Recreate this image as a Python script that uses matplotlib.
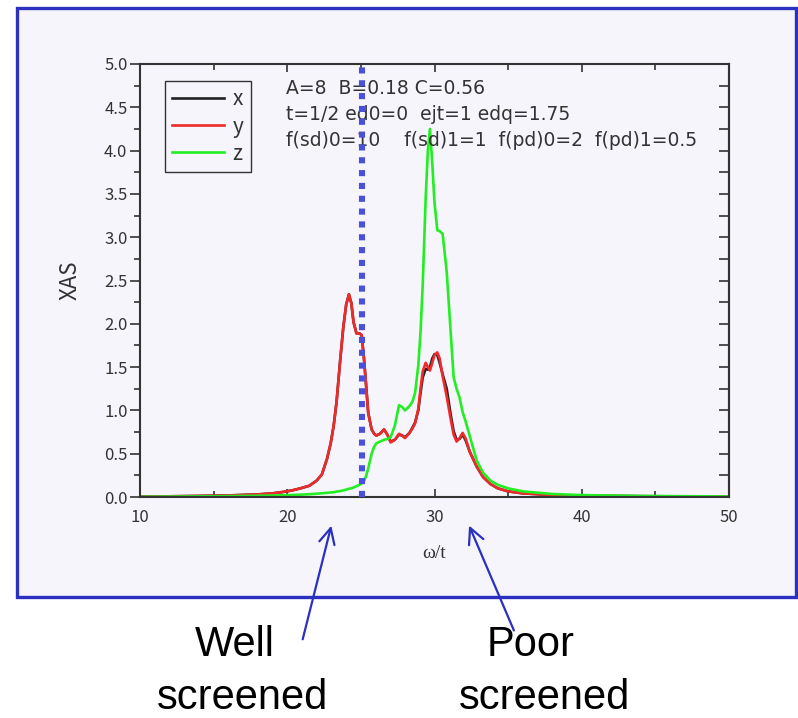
import matplotlib
matplotlib.use('Agg')
import matplotlib.pyplot as plt
from matplotlib.patches import Rectangle, FancyArrowPatch
from matplotlib.ticker import MultipleLocator, FormatStrFormatter

# omega/t grid shared by the three spectra
omega = [10, 12, 14, 16, 18, 19, 19.7, 20.3, 20.9, 21.5, 22.0, 22.35, 22.7, 22.95,
         23.15, 23.35, 23.58, 23.8, 24.0, 24.19, 24.35, 24.5, 24.7, 24.9, 25.05,
         25.2, 25.35, 25.5, 25.73, 25.9, 26.05, 26.3, 26.57, 26.8, 27.02, 27.3,
         27.59, 27.8, 28.0, 28.3, 28.5, 28.68, 28.9, 29.05, 29.2, 29.4, 29.55,
         29.69, 29.85, 30.0, 30.19, 30.35, 30.55, 30.83, 31.1, 31.3, 31.5, 31.7,
         31.91, 32.1, 32.4, 32.87, 33.3, 33.8, 34.3, 35, 36, 38, 40, 44, 50]

xas_x = [0.005, 0.008, 0.012, 0.018, 0.03, 0.042, 0.058, 0.075, 0.1, 0.13, 0.19, 0.26,
         0.44, 0.62, 0.82, 1.1, 1.55, 1.95, 2.22, 2.34, 2.24, 2.02, 1.89, 1.89, 1.87,
         1.62, 1.3, 0.97, 0.78, 0.73, 0.71, 0.73, 0.78, 0.72, 0.64, 0.66, 0.72, 0.71,
         0.69, 0.74, 0.8, 0.86, 1.0, 1.2, 1.38, 1.48, 1.47, 1.5, 1.6, 1.65, 1.64, 1.55,
         1.42, 1.25, 0.95, 0.76, 0.66, 0.67, 0.72, 0.66, 0.52, 0.35, 0.23, 0.15, 0.1,
         0.065, 0.042, 0.023, 0.015, 0.009, 0.005]

xas_y = [0.005, 0.008, 0.012, 0.018, 0.03, 0.042, 0.058, 0.075, 0.1, 0.13, 0.19, 0.26,
         0.44, 0.62, 0.82, 1.1, 1.55, 1.95, 2.22, 2.34, 2.24, 2.02, 1.89, 1.89, 1.87,
         1.62, 1.3, 0.97, 0.78, 0.73, 0.71, 0.73, 0.78, 0.72, 0.63, 0.66, 0.73, 0.71,
         0.68, 0.74, 0.79, 0.85, 1.02, 1.25, 1.45, 1.55, 1.5, 1.46, 1.55, 1.64, 1.67,
         1.6, 1.4, 1.16, 0.9, 0.72, 0.64, 0.68, 0.74, 0.68, 0.52, 0.35, 0.23, 0.15, 0.1,
         0.065, 0.042, 0.023, 0.015, 0.009, 0.005]

xas_z = [0.003, 0.005, 0.007, 0.01, 0.014, 0.017, 0.02, 0.023, 0.027, 0.032, 0.038,
         0.043, 0.048, 0.052, 0.056, 0.062, 0.068, 0.076, 0.085, 0.095, 0.1, 0.11, 0.125,
         0.14, 0.155, 0.18, 0.24, 0.33, 0.5, 0.58, 0.62, 0.64, 0.66, 0.67, 0.69, 0.82,
         1.06, 1.04, 1.0, 1.05, 1.1, 1.2, 1.52, 1.9, 2.45, 3.45, 4.0, 4.25, 3.85, 3.4,
         3.08, 3.07, 3.04, 2.6, 1.9, 1.38, 1.25, 1.15, 0.98, 0.88, 0.7, 0.42, 0.28, 0.19,
         0.14, 0.1, 0.065, 0.035, 0.022, 0.012, 0.006]

series_labels = ['x', 'y', 'z']
series_colors = ['#222222', '#ee2a2a', '#22ee22']
divider_omega = 25.1

param_lines = ['A=8  B=0.18 C=0.56',
               't=1/2 ed0=0  ejt=1 edq=1.75',
               'f(sd)0=10    f(sd)1=1  f(pd)0=2  f(pd)1=0.5']
param_y = [4.72, 4.42, 4.12]

W, H = 798, 718
bg = '#f5f5fb'
blue = '#2b30c0'
gothic = ['Noto Sans CJK JP', 'DejaVu Sans']

fig = plt.figure(figsize=(W / 100, H / 100), dpi=100)
fig.patch.set_facecolor('white')

# framed panel behind the plot
panel = Rectangle((17 / W, 1 - 597 / H), (796 - 17) / W, (597 - 8) / H,
                  transform=fig.transFigure, facecolor=bg,
                  edgecolor=blue, linewidth=2.4, zorder=-5)
fig.patches.append(panel)

ax = fig.add_axes([140 / W, 1 - 497 / H, (729 - 140) / W, (497 - 64) / H])
ax.set_facecolor(bg)

for vals, lab, col in zip([xas_x, xas_y, xas_z], series_labels, series_colors):
    ax.plot(omega, vals, color=col, linewidth=1.9, label=lab,
            solid_joinstyle='round')

ax.axvline(divider_omega, ymin=0, ymax=1, color='#4a50d8', linewidth=4.4,
           linestyle=(0, (1, 1.1)), dash_capstyle='butt', zorder=5)

for txt, yy in zip(param_lines, param_y):
    ax.text(19.92, yy, txt, fontsize=13.5, family='DejaVu Sans', color='#333333',
            va='center')

ax.set_xlim(10, 50)
ax.set_ylim(0, 5)
ax.xaxis.set_major_locator(MultipleLocator(10))
ax.xaxis.set_minor_locator(MultipleLocator(5))
ax.yaxis.set_major_locator(MultipleLocator(0.5))
ax.yaxis.set_minor_locator(MultipleLocator(0.25))
ax.yaxis.set_major_formatter(FormatStrFormatter('%.1f'))

ax.tick_params(axis='x', which='both', direction='in', top=True, bottom=True,
               colors='#333333', labelsize=12, pad=9)
ax.tick_params(axis='x', which='major', length=6, width=1.2)
ax.tick_params(axis='x', which='minor', length=4, width=1.2)
ax.tick_params(axis='y', which='both', direction='out', left=True, right=False,
               colors='#333333', labelsize=12, pad=2)
ax.tick_params(axis='y', which='major', length=7, width=1.2)
ax.tick_params(axis='y', which='minor', length=4, width=1.2)

sec = ax.secondary_yaxis('right')
sec.yaxis.set_major_locator(MultipleLocator(0.5))
sec.yaxis.set_minor_locator(MultipleLocator(0.25))
sec.tick_params(which='both', direction='in', labelright=False, colors='#333333',
                length=7, width=1.2)
sec.spines['right'].set_color('#333333')
sec.spines['right'].set_linewidth(1.5)

for lab in ax.get_xticklabels() + ax.get_yticklabels():
    lab.set_family(gothic)

for s in ax.spines.values():
    s.set_color('#333333')
    s.set_linewidth(1.5)

ax.set_ylabel('XAS', fontsize=16, family=gothic, color='#333333', labelpad=16)
ax.set_xlabel('ω/t', fontsize=14, family=['Liberation Serif', 'DejaVu Serif'],
              color='#333333', labelpad=13)

leg = ax.legend(loc='upper left', bbox_to_anchor=((165 - 140) / 589, 1 - (81 - 64) / 433),
                frameon=True, fancybox=False, edgecolor='#333333', facecolor=bg,
                framealpha=1, prop={'family': gothic, 'size': 15}, handlelength=2.5,
                labelspacing=0.25, borderpad=0.35, handletextpad=0.4, borderaxespad=0)
leg.get_frame().set_linewidth(1.0)
for t in leg.get_texts():
    t.set_color('#333333')

# arrows and labels below the panel
arrow_kw = dict(arrowstyle='->', color=blue, lw=1.6, mutation_scale=28)
for tip, tail in [((332, 523), (302, 642)), ((468, 523), (515, 633))]:
    fig.add_artist(FancyArrowPatch(
        (tail[0] / W, 1 - tail[1] / H), (tip[0] / W, 1 - tip[1] / H),
        transform=fig.transFigure, zorder=10, **arrow_kw))

big = dict(fontsize=30, family=['Liberation Sans', 'DejaVu Sans'], color='black',
           ha='center', va='baseline')
fig.text(235 / W, 1 - 656 / H, 'Well', **big)
fig.text(242 / W, 1 - 709 / H, 'screened', **big)
fig.text(531 / W, 1 - 656 / H, 'Poor', **big)
fig.text(544 / W, 1 - 709 / H, 'screened', **big)

fig.savefig('out.png', dpi=100, facecolor='white')
